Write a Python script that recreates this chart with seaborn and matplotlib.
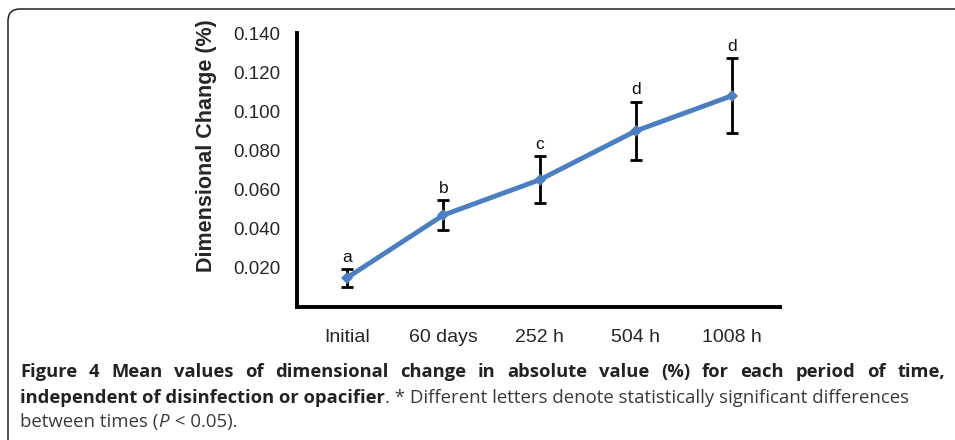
import matplotlib
matplotlib.use("Agg")
import matplotlib.pyplot as plt
from matplotlib.patches import FancyBboxPatch
import seaborn as sns
import pandas as pd

# chart values
periods = ["Initial", "60 days", "252 h", "504 h", "1008 h"]
mean_change = [0.015, 0.047, 0.065, 0.090, 0.108]
error = [0.0045, 0.0077, 0.012, 0.015, 0.019]
letters = ["a", "b", "c", "d", "d"]
yticks = [0.020, 0.040, 0.060, 0.080, 0.100, 0.120, 0.140]

df = pd.DataFrame({"Period": periods, "Change": mean_change, "Err": error})

sns.set_theme(style="white")
plt.rcParams["font.family"] = ["Liberation Sans", "DejaVu Sans"]

fig = plt.figure(figsize=(9.55, 4.4), dpi=100)
ax = fig.add_axes([0.311, 0.302, 0.506, 0.623])

ax.errorbar(range(len(periods)), df["Change"], yerr=df["Err"], fmt="none",
            ecolor="black", elinewidth=2, capsize=4, capthick=2, zorder=2)
sns.lineplot(data=df, x="Period", y="Change", ax=ax, color="#4a7fc1",
             linewidth=3.5, marker="D", markersize=6, markeredgewidth=0,
             sort=False, zorder=3)

for i, (m, e, l) in enumerate(zip(mean_change, error, letters)):
    ax.annotate(l, (i, m + e), xytext=(0, 3), textcoords="offset points",
                ha="center", va="bottom", fontsize=12.5, color="#111111")

ax.set_ylim(0, 0.14)
ax.set_xlim(-0.52, 4.5)
ax.set_yticks(yticks)
ax.set_yticklabels([f"{v:.3f}" for v in yticks], fontsize=13.5)
ax.tick_params(axis="y", direction="in", length=4, width=2.5, pad=12, color="black")
ax.tick_params(axis="x", length=0, pad=16, labelsize=14)
ax.set_xlabel("")
ax.set_ylabel("Dimensional Change (%)", fontsize=15.5, fontweight="bold")
ax.yaxis.set_label_coords(-0.165, 0.588)
for s in ["top", "right"]:
    ax.spines[s].set_visible(False)
for s in ["left", "bottom"]:
    ax.spines[s].set_linewidth(2.8)
    ax.spines[s].set_color("black")

# page frame
frame = FancyBboxPatch((0.08, -1.0), 20, 5.31, boxstyle="round,pad=0,rounding_size=0.12",
                       transform=fig.dpi_scale_trans, fill=False, linewidth=1.1,
                       edgecolor="#222222")
fig.add_artist(frame)

# caption with mixed styles
cap_font = ["Open Sans", "DejaVu Sans"]
renderer = fig.canvas.get_renderer()


def put(x, y, s, **kw):
    t = fig.text(x, y, s, transform=None, fontfamily=cap_font, va="baseline", **kw)
    bb = t.get_window_extent(renderer=renderer)
    return bb.x1


def measure(s, **kw):
    t = fig.text(0, 0, s, transform=None, fontfamily=cap_font, **kw)
    w = t.get_window_extent(renderer=renderer).width
    t.remove()
    return w


bold_kw = dict(fontsize=13.2, fontweight="bold", color="#222222")
norm_kw = dict(fontsize=13.4, color="#3a3a3a")

# first line is justified across the full width
line1 = "Figure 4 Mean values of dimensional change in absolute value (%) for each period of time,"
words = line1.split(" ")
widths = [measure(w, **bold_kw) for w in words]
x0, x1 = 20, 945
gap = (x1 - x0 - sum(widths)) / (len(words) - 1)
x = x0
for w, wd in zip(words, widths):
    put(x, 440 - 377, w, **bold_kw)
    x += wd + gap

x = put(20, 440 - 403, "independent of disinfection or opacifier", **bold_kw)
put(x, 440 - 403, ". * Different letters denote statistically significant differences", **norm_kw)
x = put(20, 440 - 427, "between times (", **norm_kw)
x = put(x, 440 - 427, "P", style="italic", **norm_kw)
put(x + 1, 440 - 427, " < 0.05).", **norm_kw)

fig.savefig("out.png", dpi=100)
